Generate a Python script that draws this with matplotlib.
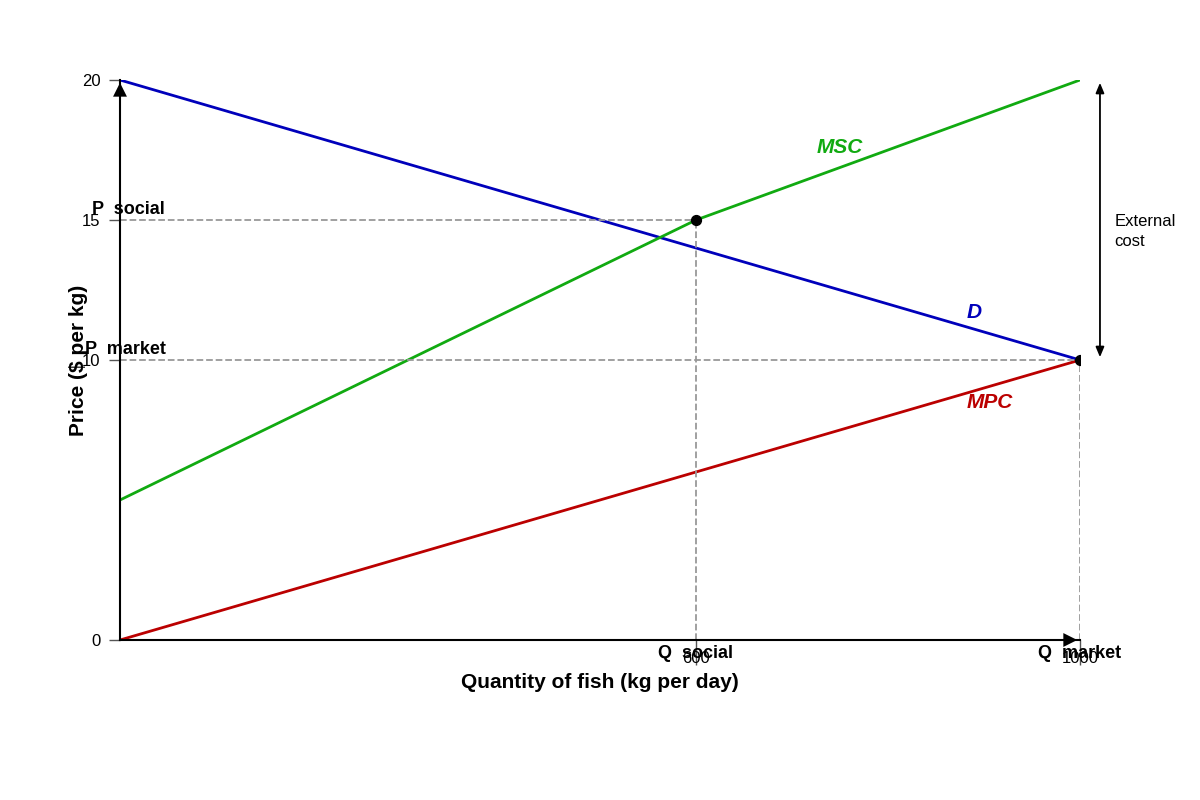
import matplotlib
matplotlib.use("Agg")
import matplotlib.pyplot as plt

plt.rcParams['font.family'] = ['Liberation Sans', 'DejaVu Sans']

q = [0, 1000]
demand = [20, 10]
msc_q = [0, 600, 1000]
msc = [5, 15, 20]
mpc = [0, 10]
q_social, p_social = 600, 15
q_market, p_market = 1000, 10
yticks = [0, 10, 15, 20]
xticks = [600, 1000]

fig = plt.figure(figsize=(12, 8), dpi=100)
ax = fig.add_axes([0.1, 0.2, 0.8, 0.7])
ax.set_xlim(0, 1000)
ax.set_ylim(0, 20)
for s in ["top", "right"]:
    ax.spines[s].set_visible(False)
for s in ["left", "bottom"]:
    ax.spines[s].set_linewidth(1.5)
ax.set_yticks(yticks)
ax.set_xticks(xticks)
ax.tick_params(axis="y", length=8, width=1, color="#555", labelsize=12, pad=6)
ax.tick_params(axis="x", length=18, width=1, color="#555", labelsize=12, pad=-10)

ax.plot(q, demand, color="#0000bb", lw=2)
ax.plot(msc_q, msc, color="#11aa11", lw=2)
ax.plot(q, mpc, color="#bb0000", lw=2)

ax.plot([0, q_social], [p_social]*2, ls="--", color="#999", lw=1.3)
ax.plot([q_social]*2, [0, p_social], ls="--", color="#999", lw=1.3)
ax.plot([0, q_market], [p_market]*2, ls="--", color="#999", lw=1.3)
ax.plot([q_market]*2, [0, p_market], ls="--", color="#999", lw=1.3)
ax.scatter([q_social, q_market], [p_social, p_market], color="black", s=50, zorder=5)

ax.annotate("", xy=(1000, 0), xytext=(984, 0),
            arrowprops=dict(arrowstyle="-|>,head_width=0.5,head_length=1", color="black", lw=0),
            annotation_clip=False)
ax.annotate("", xy=(0, 20), xytext=(0, 19.45),
            arrowprops=dict(arrowstyle="-|>,head_width=0.5,head_length=1", color="black", lw=0),
            annotation_clip=False)

ax.annotate("", xy=(1020.8, 20), xytext=(1020.8, 10),
            arrowprops=dict(arrowstyle="<|-|>,head_width=0.25,head_length=0.6", color="black", lw=1.3),
            annotation_clip=False)
ax.text(1036, 14.6, "External\ncost", fontsize=12, va="center", ha="left", linespacing=1.4)

ax.text(750, 17.6, "MSC", color="#11aa11", fontsize=15, fontstyle="italic", fontweight="bold", ha="center", va="center")
ax.text(890, 11.7, "D", color="#0000bb", fontsize=15, fontstyle="italic", fontweight="bold", ha="center", va="center")
ax.text(906, 8.5, "MPC", color="#bb0000", fontsize=15, fontstyle="italic", fontweight="bold", ha="center", va="center")

fig.text(128/1200, 1-209/800, "P  social", fontsize=13, fontweight="bold", ha="center", va="center")
fig.text(125/1200, 1-349/800, "P  market", fontsize=13, fontweight="bold", ha="center", va="center")
fig.text(696/1200, 1-654/800, "Q  social", fontsize=13, fontweight="bold", ha="center", va="center")
fig.text(1080/1200, 1-654/800, "Q  market", fontsize=13, fontweight="bold", ha="center", va="center")

fig.text(600/1200, 1-683/800, "Quantity of fish (kg per day)", fontsize=15, fontweight="bold", ha="center", va="center")
fig.text(78/1200, 1-360/800, "Price ($ per kg)", fontsize=15, fontweight="bold", ha="center", va="center", rotation=90)

fig.savefig("out.png", dpi=100)
